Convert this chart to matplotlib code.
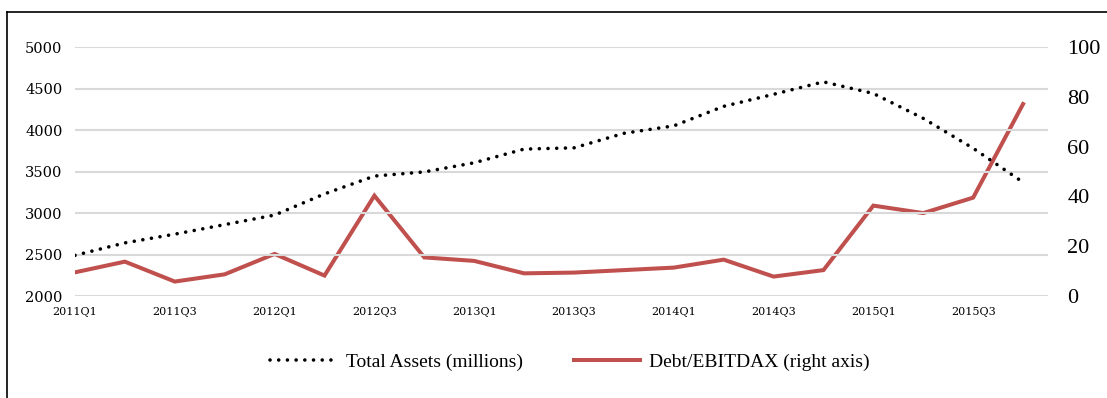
import numpy as np
import matplotlib
matplotlib.use("Agg")
import matplotlib.pyplot as plt
from matplotlib.lines import Line2D

quarters = [f"{y}Q{q}" for y in range(2011, 2016) for q in range(1, 5)]
total_assets = [2490, 2640, 2745, 2860, 2975, 3230, 3445, 3495, 3605, 3770,
                3785, 3960, 4050, 4285, 4430, 4580, 4440, 4140, 3780, 3370]
debt_ebitdax = [9.5, 13.8, 5.8, 8.7, 16.9, 8.2, 40.3, 15.5, 14.1, 9.1,
                9.4, 10.4, 11.4, 14.6, 7.8, 10.4, 36.3, 33.3, 39.5, 77.1]

plt.rcParams["font.family"] = ["Liberation Serif", "DejaVu Serif"]

W, H = 1107, 398
fig = plt.figure(figsize=(W / 100, H / 100), dpi=100)
ax = fig.add_axes([75 / W, (H - 296) / H, (1048 - 75) / W, (296 - 47) / H])
ax2 = ax.twinx()

x = np.arange(len(quarters))
l1, = ax.plot(x, total_assets, color="black", lw=2.6, linestyle=(0, (0.01, 2.4)),
              dash_capstyle="round", label="Total Assets (millions)")
l2, = ax2.plot(x, debt_ebitdax, color="#C0504D", lw=2.9, solid_joinstyle="miter",
               label="Debt/EBITDAX (right axis)")

ax.set_xlim(0, 19.5)
ax.set_ylim(2000, 5000)
ax.set_yticks(range(2000, 5001, 500))
ax2.set_ylim(0, 100)
ax2.set_yticks(range(0, 101, 20))
ax.set_xticks(x[::2])
ax.set_xticklabels(quarters[::2])

ax.grid(axis="y", color="#D9D9D9", lw=1.5)
ax.set_axisbelow(True)
for a in (ax, ax2):
    for s in a.spines.values():
        s.set_visible(False)
    a.tick_params(length=0)
ax.tick_params(axis="y", labelsize=10.5, pad=9)
ax.tick_params(axis="x", labelsize=8, pad=8)
for lab in ax.get_yticklabels() + ax.get_xticklabels():
    lab.set_family("DejaVu Serif")
ax2.tick_params(axis="y", labelsize=16, pad=14)
ax.set_zorder(ax2.get_zorder() + 1)
ax.patch.set_visible(False)

fig.legend(handles=[l1, l2], loc="center", bbox_to_anchor=(0.515, 0.09), ncol=2,
           frameon=False, fontsize=14, handlelength=3.4, handletextpad=0.5,
           columnspacing=2.6)

# outer frame: top and left edges
fig.add_artist(Line2D([7 / W, 1], [1 - 12 / H, 1 - 12 / H], color="black", lw=1.2))
fig.add_artist(Line2D([7 / W, 7 / W], [0, 1 - 12 / H], color="black", lw=1.2))

fig.savefig("out.png", dpi=100)
